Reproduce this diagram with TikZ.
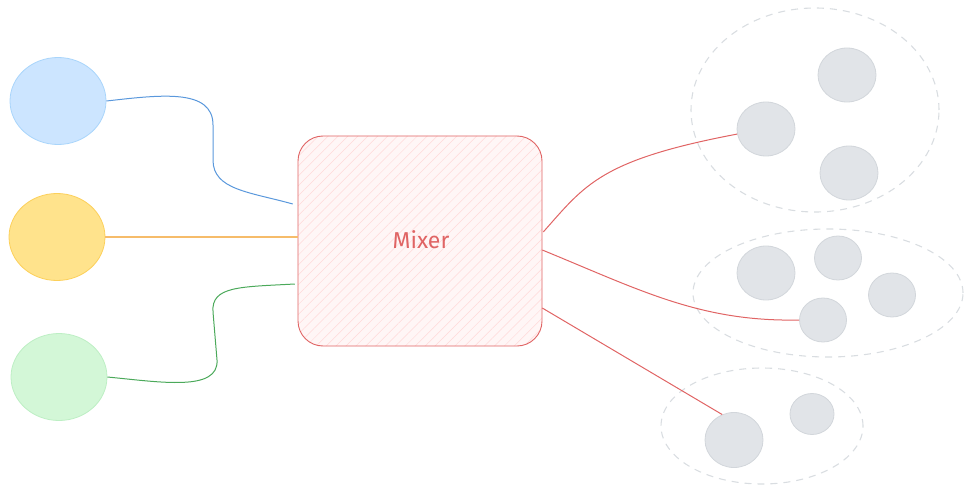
\documentclass[tikz,border=0pt]{standalone}
\usepackage{fontspec}
\newfontfamily\mixfont{Fira Sans}
\usetikzlibrary{positioning,shapes.geometric,calc,patterns.meta}
\definecolor{bluefill}{HTML}{CCE5FF}
\definecolor{bluedraw}{HTML}{A9D5FB}
\definecolor{blueline}{HTML}{5A98DC}
\definecolor{yelfill}{HTML}{FFE38C}
\definecolor{yeldraw}{HTML}{FCD05A}
\definecolor{yelline}{HTML}{F6BC6A}
\definecolor{grnfill}{HTML}{D3F7D7}
\definecolor{grndraw}{HTML}{BDEFC4}
\definecolor{grnline}{HTML}{4BA95A}
\definecolor{redline}{HTML}{E06464}
\definecolor{redhatch}{HTML}{FFD9D9}
\definecolor{redfill}{HTML}{FFF6F6}
\definecolor{grayfill}{HTML}{E1E4E8}
\definecolor{graydraw}{HTML}{D2D6DB}
\definecolor{ringdraw}{HTML}{D9DDE1}
\tikzstyle{srcball}=[ellipse, minimum width=96pt, minimum height=87pt, inner sep=0pt, line width=0.8pt]
\tikzstyle{grayball}=[ellipse, fill=grayfill, draw=graydraw, line width=0.8pt, inner sep=0pt]
\tikzstyle{bigball}=[grayball, minimum width=58pt, minimum height=54pt]
\tikzstyle{smallball}=[grayball, minimum width=47pt, minimum height=44pt]
\tikzstyle{groupring}=[ellipse, draw=ringdraw, dash pattern=on 7pt off 6pt, line width=1.1pt, inner sep=0pt]
\tikzstyle{mixbox}=[rectangle, rounded corners=25pt, draw=redline, line width=0.9pt,
                    preaction={fill=redfill},
                    pattern={Lines[angle=45,distance=7pt,line width=0.5pt]}, pattern color=redhatch,
                    minimum width=244pt, minimum height=210pt, inner sep=0pt]
\tikzstyle{pline}=[-, line width=1pt]

\begin{document}
\begin{tikzpicture}[x=1pt,y=-1pt]
\useasboundingbox (0,0) rectangle (973,494);

% sources
\node (BLUE) [srcball, fill=bluefill, draw=bluedraw] at (58,101) {};
\node (YEL) [srcball, fill=yelfill, draw=yeldraw] at (57,237) {};
\node (GRN) [srcball, fill=grnfill, draw=grndraw] at (59,377) {};

% mixer
\node (MIX) [mixbox] at (420,241) {};
\node (MIXtxt) [text=redline] at (421,240) {\mixfont\fontsize{23}{23}\selectfont Mixer};

% groups
\node (RINGA) [groupring, minimum width=248pt, minimum height=204pt] at (815,110) {};
\node (RINGB) [groupring, minimum width=270pt, minimum height=128pt] at (828,293) {};
\node (RINGC) [groupring, minimum width=202pt, minimum height=116pt] at (762,426) {};

\node (A1) [bigball] at (766,129) {};
\node (A2) [bigball] at (847,75) {};
\node (A3) [bigball] at (849,173) {};

\node (B1) [bigball] at (766,273) {};
\node (B2) [smallball] at (838,258) {};
\node (B3) [smallball] at (892,295) {};
\node (B4) [smallball] at (823,320) {};

\node (C1) [bigball, minimum height=55pt] at (734,440) {};
\node (C2) [smallball, minimum width=44pt, minimum height=41pt] at (812,414) {};

% inputs
\draw[pline, draw=blueline] (BLUE.east) .. controls (160,95) and (213,88) .. (213,125)
   -- (213,160) .. controls (213,190) and (250,192) .. ($(MIX.west)+(-5,-37)$);
\draw[pline, draw=yelline, line width=1.4pt] (YEL.east) -- (YEL.east -| MIX.west);
\draw[pline, draw=grnline] (GRN.east) .. controls (160,382) and (219,392) .. (217,360)
   -- (213,312) .. controls (211,286) and (240,287) .. ($(MIX.west)+(-3,43)$);

% outputs
\draw[pline, draw=redline] ($(MIX.east)+(1,-9)$) .. controls (585,185) and (600,160) .. (A1.190);
\draw[pline, draw=redline] ($(MIX.east)+(0,9)$) .. controls (640,290) and (700,322) .. (B4.west);
\draw[pline, draw=redline] ($(MIX.east)+(0,67)$) -- (C1.115);

\end{tikzpicture}
\end{document}
